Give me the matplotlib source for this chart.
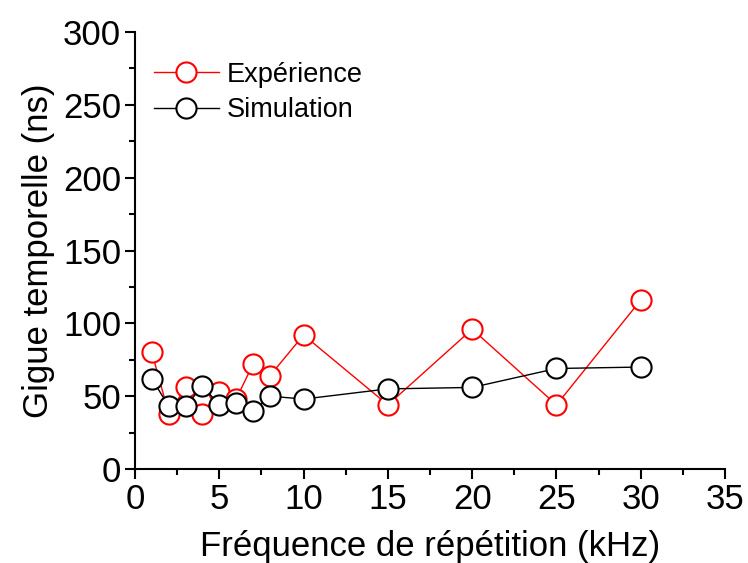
import matplotlib
import matplotlib.pyplot as plt
from matplotlib.ticker import MultipleLocator

matplotlib.use("Agg")
plt.rcParams["font.family"] = ["Liberation Sans", "DejaVu Sans"]

# data
freq_khz = [1, 2, 3, 4, 5, 6, 7, 8, 10, 15, 20, 25, 30]
jitter_exp = [80, 38, 56, 38, 53, 48, 72, 64, 92, 44, 96, 44, 116]
jitter_sim = [62, 43, 43, 57, 44, 45, 40, 50, 48, 55, 56, 69, 70]

fig = plt.figure(figsize=(7.48, 5.63), dpi=100)
ax = fig.add_axes([0.1805, 0.167, 0.7888, 0.776])

common = dict(linewidth=1.0, marker="o", markersize=14.5, markerfacecolor="white",
              markeredgewidth=1.5)
ax.plot(freq_khz, jitter_exp, color="red", label="Expérience", **common)
ax.plot(freq_khz, jitter_sim, color="black", label="Simulation", **common)

ax.set_xlim(0, 35)
ax.set_ylim(0, 300)
ax.xaxis.set_major_locator(MultipleLocator(5))
ax.xaxis.set_minor_locator(MultipleLocator(2.5))
ax.yaxis.set_major_locator(MultipleLocator(50))
ax.yaxis.set_minor_locator(MultipleLocator(25))

for side in ["top", "right"]:
    ax.spines[side].set_visible(False)
for side in ["left", "bottom"]:
    ax.spines[side].set_linewidth(1.5)

ax.tick_params(which="major", direction="out", length=7, width=1.5, labelsize=25,
               pad=3)
ax.tick_params(which="minor", direction="out", length=4, width=1.5)

ax.set_xlabel("Fréquence de répétition (kHz)", fontsize=25, labelpad=10)
ax.set_ylabel("Gigue temporelle (ns)", fontsize=25, labelpad=6)

ax.legend(loc="upper left", frameon=False, fontsize=19.5, handlelength=2.4,
          borderaxespad=0.3, bbox_to_anchor=(0.0, 0.975), labelspacing=0.35,
          handletextpad=0.3)

fig.savefig("out.png", dpi=100)
